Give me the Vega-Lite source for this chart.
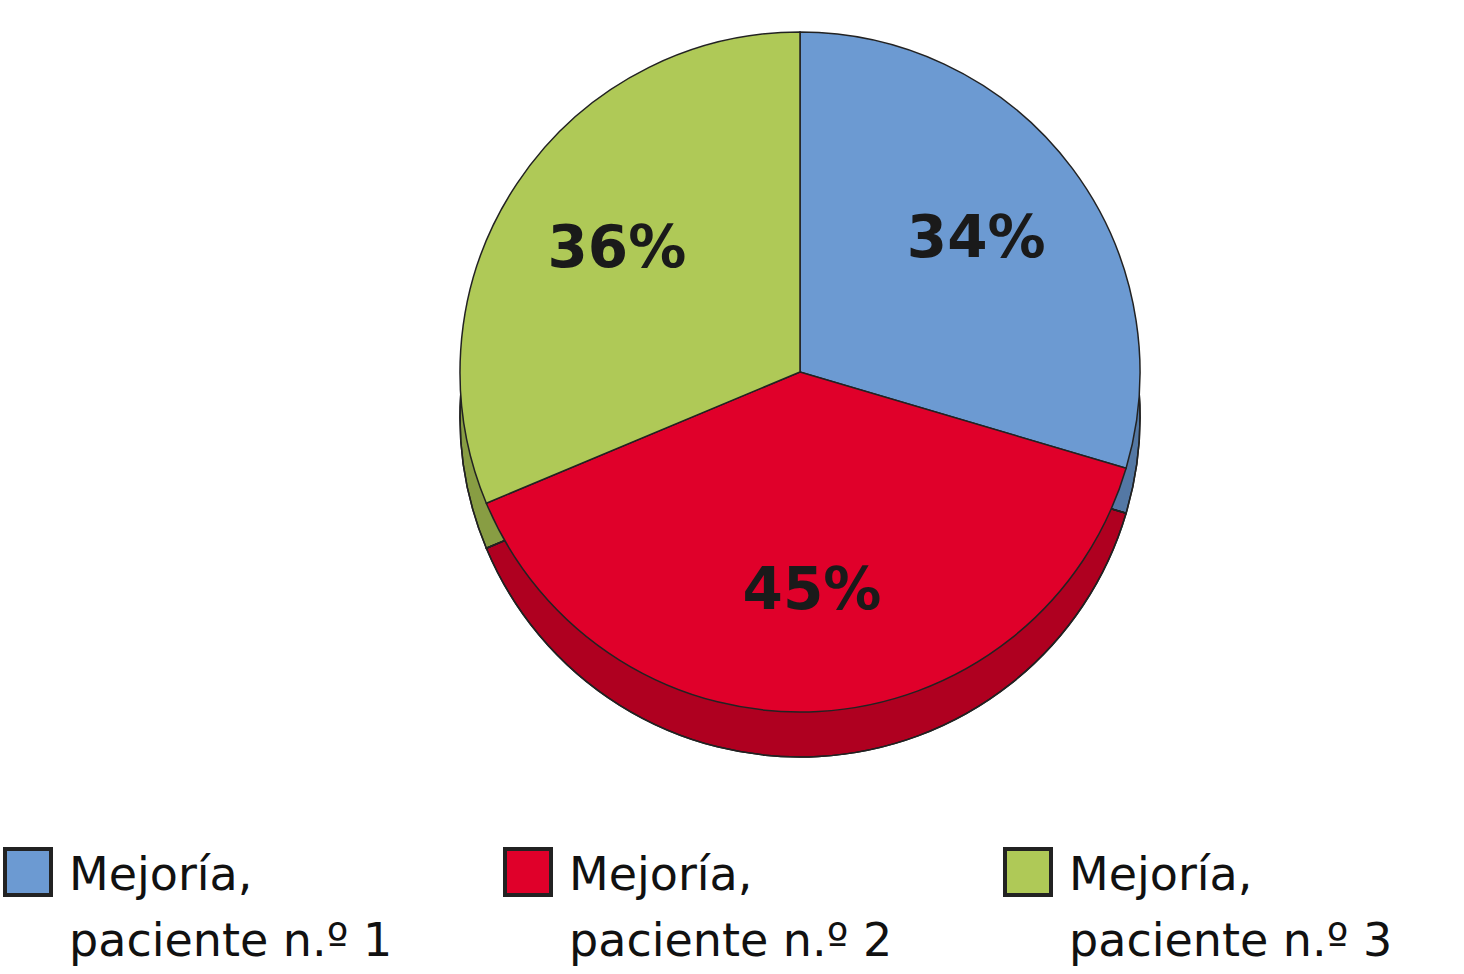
{
  "$schema": "https://vega.github.io/schema/vega-lite/v6.json",
  "width": 1322,
  "height": 744,
  "padding": {"left": 3, "top": 0, "right": 0, "bottom": 230},
  "background": "white",
  "config": {"view": {"stroke": null}},
  "data": {"values": [
    {"serie": "Mejoría,|paciente n.º 1", "valor": 34, "etiqueta": "34%"},
    {"serie": "Mejoría,|paciente n.º 2", "valor": 45, "etiqueta": "45%"},
    {"serie": "Mejoría,|paciente n.º 3", "valor": 36, "etiqueta": "36%"}
  ]},
  "encoding": {
    "theta": {"field": "valor", "type": "quantitative", "stack": true},
    "order": {"field": "serie", "type": "nominal"}
  },
  "layer": [
    {
      "mark": {"type": "arc", "outerRadius": 340, "yOffset": 45, "stroke": "#222", "strokeWidth": 1.5},
      "encoding": {
        "fill": {
          "field": "serie", "type": "nominal",
          "scale": {"range": ["#6c9ad2", "#e0002a", "#afc957"]},
          "legend": {
            "title": null,
            "orient": "none",
            "legendX": -136,
            "legendY": 847,
            "direction": "horizontal",
            "columns": 3,
            "columnPadding": 104,
            "symbolType": "square",
            "symbolSize": 2116,
            "symbolStrokeColor": "#222",
            "symbolStrokeWidth": 4,
            "symbolOpacity": 1,
            "labelFont": "DejaVu Sans",
            "labelFontSize": 46,
            "labelColor": "#111",
            "labelLimit": 600,
            "labelOffset": 16,
            "labelExpr": "split(datum.value, '|')",
            "encode": {
              "labels": {"update": {"lineHeight": {"value": 66}, "baseline": {"value": "top"}, "dy": {"value": -18}}}
            }
          }
        }
      }
    },
    {
      "mark": {"type": "arc", "outerRadius": 340, "yOffset": 45, "fill": "#000", "fillOpacity": 0.22, "stroke": "#222", "strokeWidth": 1.5},
      "encoding": {}
    },
    {
      "mark": {"type": "arc", "outerRadius": 340, "stroke": "#222", "strokeWidth": 1.5},
      "encoding": {
        "fill": {"field": "serie", "type": "nominal"}
      }
    },
    {
      "mark": {"type": "text", "radius": 220, "font": "DejaVu Sans", "fontWeight": "bold", "fontSize": 58, "color": "#1a1a1a"},
      "encoding": {"text": {"field": "etiqueta", "type": "nominal"}}
    }
  ]
}
